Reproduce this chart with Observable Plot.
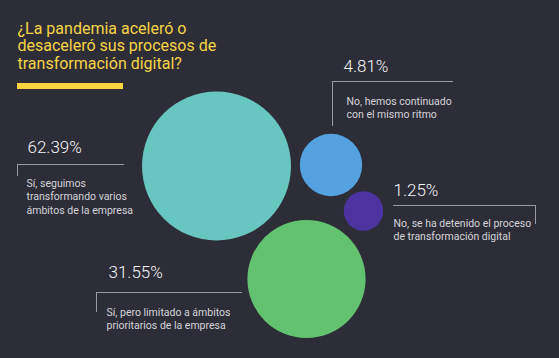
<!DOCTYPE html>
<html>
<head>
<meta charset="utf-8">
<script src="https://cdn.jsdelivr.net/npm/d3@7"></script>
<script src="https://cdn.jsdelivr.net/npm/@observablehq/plot@0.6"></script>
<style>
  html, body { margin: 0; padding: 0; background: #2d2d37; }
  #chart svg { display: block; }
</style>
</head>
<body>
<div id="chart"></div>
<script>
// ---- data ----
const titleLines = ["¿La pandemia aceleró o", "desaceleró sus procesos de", "transformación digital?"];
const categories = ["Sí, varios ámbitos", "No, mismo ritmo", "No, detenido", "Sí, limitado"];
const values = [62.39, 4.81, 1.25, 31.55];
const percentLabels = ["62.39%", "4.81%", "1.25%", "31.55%"];
const descriptions = [
  "Sí, seguimos\ntransformando varios\námbitos de la empresa",
  "No, hemos continuado\ncon el mismo ritmo",
  "No, se ha detenido el proceso\nde transformación digital",
  "Sí, pero limitado a ámbitos\nprioritarios de la empresa"
];
const colors = ["#68c6c0", "#55a2e0", "#4d33a0", "#63c270"];

// ---- layout (page coordinates) ----
const titleY = [22.4, 39.6, 56.8];
const bubbleX = [216, 330.5, 363, 306];
const bubbleY = [165.5, 164.5, 210.5, 278.5];
const pctX = [27, 343, 393, 108];
const pctY = [140, 59, 183, 265];
const descX = [26, 346, 393, 106];
const descY = [176.5, 94.5, 216.5, 305.5];
// callout rules: horizontal [y, x1, x2], vertical [x, y1, y2]
const hRules = [[164, 17, 124], [81, 332, 453], [205, 393, 535], [292, 96, 242]];
const vRules = [[17, 164, 176], [332, 81, 126], [535, 205, 224], [96, 292, 312]];

const rows = categories.map((c, i) => ({
  category: c, value: values[i], pct: percentLabels[i], desc: descriptions[i],
  bx: bubbleX[i], by: bubbleY[i], px: pctX[i], py: pctY[i], dx: descX[i], dy: descY[i]
}));
const titleRows = titleLines.map((t, i) => ({t, y: titleY[i]}));

const font = "Roboto, 'Noto Sans', sans-serif";

const chart = Plot.plot({
  width: 559,
  height: 358,
  margin: 0,
  x: {domain: [0, 559], range: [0, 559], axis: null},
  y: {domain: [0, 358], range: [0, 358], axis: null},
  r: {type: "pow", exponent: 0.34, domain: [0, 62.39], range: [0, 74.5]},
  color: {domain: categories, range: colors},
  style: {background: "#2d2d37", fontFamily: font, overflow: "visible"},
  marks: [
    // title
    Plot.text(titleRows, {x: () => 17, y: "y", text: "t", textAnchor: "start", lineAnchor: "top",
      fontSize: 16, fill: "#f5d545", fontFamily: font}),
    Plot.rect([0], {x1: () => 17, x2: () => 123, y1: () => 83, y2: () => 89, fill: "#f7d33d"}),
    // bubbles
    Plot.dot(rows, {x: "bx", y: "by", r: "value", fill: "category", stroke: null}),
    // callout rules
    Plot.ruleY(hRules, {y: d => d[0], x1: d => d[1], x2: d => d[2], stroke: "#9a9aa2", strokeWidth: 1}),
    Plot.ruleX(vRules, {x: d => d[0], y1: d => d[1], y2: d => d[2], stroke: "#9a9aa2", strokeWidth: 1}),
    // labels
    Plot.text(rows, {x: "px", y: "py", text: "pct", textAnchor: "start", lineAnchor: "top",
      fontSize: 17, fontWeight: 300, fill: "#f4f4f6", fontFamily: font}),
    Plot.text(rows, {x: "dx", y: "dy", text: "desc", textAnchor: "start", lineAnchor: "top",
      fontSize: 10.5, lineHeight: 1.29, fill: "#d4d4d8", fontFamily: font})
  ]
});
document.getElementById("chart").append(chart);
</script>
</body>
</html>
